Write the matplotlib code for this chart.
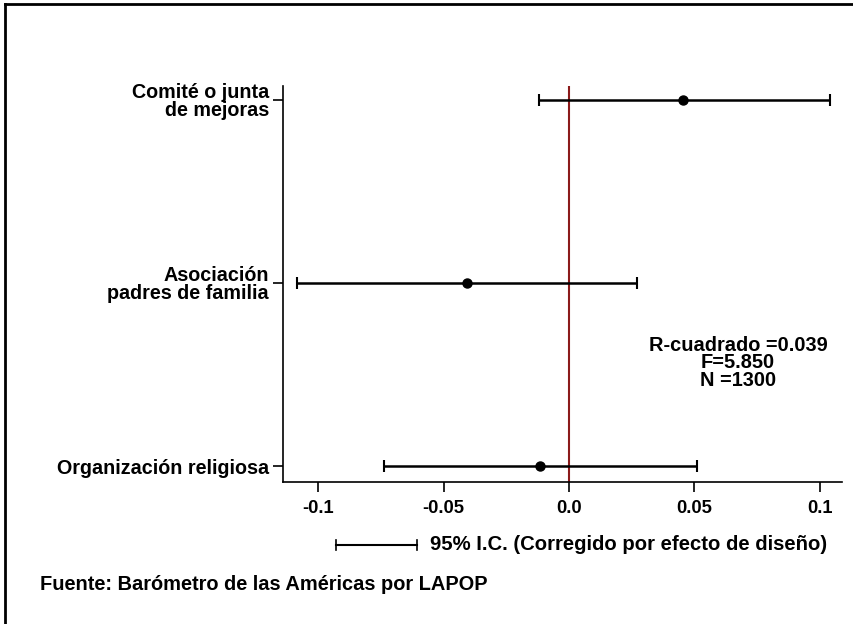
import matplotlib
matplotlib.use("Agg")
import matplotlib.pyplot as plt
from matplotlib.lines import Line2D

categories = ["Comité o junta\nde mejoras", "Asociación\npadres de familia", "Organización religiosa"]
coef = [0.0456, -0.0408, -0.0116]
ci_low = [-0.0120, -0.1084, -0.0736]
ci_high = [0.1040, 0.0272, 0.0512]
xticks = [-0.1, -0.05, 0.0, 0.05, 0.1]
xticklabels = ["-0.1", "-0.05", "0.0", "0.05", "0.1"]
stats_text = "R-cuadrado =0.039\nF=5.850\nN =1300"
legend_text = "95% I.C. (Corregido por efecto de diseño)"
source_text = "Fuente: Barómetro de las Américas por LAPOP"

plt.rcParams['font.family'] = ['Liberation Sans', 'DejaVu Sans']

fig = plt.figure(figsize=(8.54, 6.24), dpi=100)
ax = fig.add_axes([283/854, 1-482/624, (842-283)/854, (482-86)/624])

ypos = [3, 2, 1]
for y, c, lo, hi in zip(ypos, coef, ci_low, ci_high):
    ax.errorbar([c], [y], xerr=[[c - lo], [hi - c]], fmt='o', color='black',
                ms=6.5, elinewidth=1.8, capsize=4.5, capthick=1.5, zorder=3)

ax.axvline(0, color='#8B1A1A', lw=1.5, zorder=2)

ax.set_xlim(-0.114, 0.1088)
ax.set_ylim(0.9126, 3.0765)
ax.set_xticks(xticks)
ax.set_xticklabels(xticklabels, fontsize=13.2, fontweight='bold')
ax.set_yticks(ypos)
ax.set_yticklabels(categories, fontsize=14.2, fontweight='bold', linespacing=0.93)
ax.tick_params(axis='x', length=7, width=1.2, pad=6)
ax.tick_params(axis='y', length=7, width=1.2, pad=3)
ax.spines['top'].set_visible(False)
ax.spines['right'].set_visible(False)
ax.spines['left'].set_linewidth(1.2)
ax.spines['bottom'].set_linewidth(1.2)

fig.text(738/854, 1-363/624, stats_text, ha='center', va='center', fontsize=14.4,
         fontweight='bold', linespacing=0.87)

# legend sample
y_leg = 1 - 545/624
fig.add_artist(Line2D([336/854, 417/854], [y_leg, y_leg], color='black', lw=1.5))
for xx in (336, 417):
    fig.add_artist(Line2D([xx/854, xx/854], [y_leg - 5/624, y_leg + 5/624], color='black', lw=1.2))
fig.text(430/854, y_leg, legend_text, ha='left', va='center', fontsize=14.6, fontweight='bold')
fig.text(40/854, 1-585/624, source_text, ha='left', va='center', fontsize=14.4, fontweight='bold')

# frame
fig.add_artist(Line2D([5/854, 5/854], [0, 1-4/624], color='black', lw=2))
fig.add_artist(Line2D([5/854, 1], [1-4/624, 1-4/624], color='black', lw=2))

fig.savefig("out.png", dpi=100)
